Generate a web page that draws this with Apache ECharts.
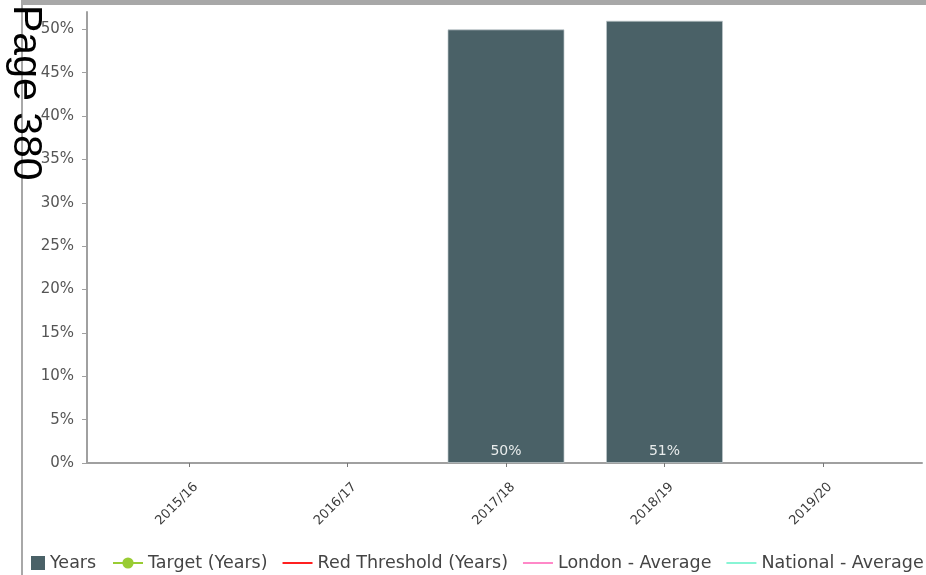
<!DOCTYPE html>
<html>
<head>
<meta charset="utf-8">
<script src="https://cdn.jsdelivr.net/npm/echarts@6/dist/echarts.min.js"></script>
<style>
  html, body { margin: 0; padding: 0; background: #fff; }
  #chart { width: 926px; height: 575px; }
</style>
</head>
<body>
<div id="chart"></div>
<script>
// Financial years shown on the category axis
const categories = ['2015/16', '2016/17', '2017/18', '2018/19', '2019/20'];
// Percentage per year (blank where no figure is reported)
const yearsValues = [null, null, 50, 51, null];
// Comparison series (no figures reported)
const targetValues = [];
const redThresholdValues = [];
const londonValues = [];
const nationalValues = [];
// Y axis tick positions (%)
const yTicks = [0, 5, 10, 15, 20, 25, 30, 35, 40, 45, 50];
const yMax = 52;

const FONT = 'DejaVu Sans';
const AXIS_GREY = '#a0a0a0';
const BAR_COLOR = '#4a6167';
// flat bar used as the legend icon of plain line series
const LINE_ICON = 'path://M0,0H30V2H0Z';

const chart = echarts.init(document.getElementById('chart'), null, { renderer: 'canvas' });

chart.setOption({
  backgroundColor: '#fff',
  animation: false,
  graphic: [
    { type: 'rect', shape: { x: 22, y: 0, width: 904, height: 5 }, style: { fill: '#a8a8a8' }, silent: true },
    { type: 'rect', shape: { x: 21, y: 0, width: 2, height: 575 }, style: { fill: '#a8a8a8' }, silent: true },
    {
      type: 'text', x: 25, y: 5, rotation: -Math.PI / 2, z: 100,
      style: { text: 'Page 380', fill: '#000', font: '41px "Liberation Sans", Arial, sans-serif', align: 'left', verticalAlign: 'middle' }
    }
  ],
  grid: [
    { left: 87, right: 4, top: 12, bottom: 112 },
    { left: 109.75, right: 23.75, top: 12, bottom: 112 }
  ],
  xAxis: [
    {
      gridIndex: 0, type: 'value', min: 0, max: 1,
      axisLine: { show: true, lineStyle: { color: AXIS_GREY, width: 2 } },
      axisTick: { show: false }, axisLabel: { show: false }, splitLine: { show: false }
    },
    {
      gridIndex: 1, type: 'category', data: categories,
      axisLine: { show: false },
      axisTick: { show: true, alignWithLabel: true, length: 4, lineStyle: { color: '#777' } },
      axisLabel: { rotate: 45, fontSize: 13, fontFamily: FONT, color: '#3a3a3a', margin: 29, padding: [0, -10, 0, 0] },
      splitLine: { show: false }
    }
  ],
  yAxis: [
    {
      gridIndex: 0, type: 'value', min: 0, max: yMax,
      axisLine: { show: true, lineStyle: { color: AXIS_GREY, width: 2 } },
      axisTick: { show: true, length: 5, customValues: yTicks, lineStyle: { color: AXIS_GREY } },
      axisLabel: { customValues: yTicks, formatter: '{value}%', fontSize: 15, fontFamily: FONT, color: '#555', margin: 13 },
      splitLine: { show: false }
    },
    { gridIndex: 1, type: 'value', min: 0, max: yMax, show: false }
  ],
  legend: [
    {
      data: [{ name: 'Years', icon: 'rect', itemStyle: { color: BAR_COLOR, borderWidth: 0 } }],
      left: 31, top: 554, padding: 0, itemWidth: 14, itemHeight: 14,
      textStyle: { fontSize: 17.5, fontFamily: FONT, color: '#444' }
    },
    {
      data: [
        'Target (Years)',
        { name: 'Red Threshold (Years)', icon: LINE_ICON },
        { name: 'London - Average', icon: LINE_ICON },
        { name: 'National - Average', icon: LINE_ICON }
      ],
      left: 112, top: 554, padding: 0, itemWidth: 30, itemHeight: 14, itemGap: 15,
      textStyle: { fontSize: 17.5, fontFamily: FONT, color: '#444' }
    }
  ],
  series: [
    {
      name: 'Years', type: 'bar', xAxisIndex: 1, yAxisIndex: 1,
      data: yearsValues, barWidth: 117, clip: false,
      itemStyle: { color: BAR_COLOR, borderColor: 'rgba(190,200,203,0.7)', borderWidth: 1 },
      label: {
        show: true, position: 'insideBottom', distance: 5,
        formatter: p => p.value + '%',
        color: '#e8ecec', fontSize: 14, fontFamily: FONT
      }
    },
    { name: 'Target (Years)', type: 'line', xAxisIndex: 1, yAxisIndex: 1, data: targetValues,
      color: '#99cc33', symbol: 'circle', symbolSize: 10, lineStyle: { width: 2 } },
    { name: 'Red Threshold (Years)', type: 'line', xAxisIndex: 1, yAxisIndex: 1, data: redThresholdValues,
      color: '#ff2020', symbol: 'none', lineStyle: { width: 2 } },
    { name: 'London - Average', type: 'line', xAxisIndex: 1, yAxisIndex: 1, data: londonValues,
      color: '#ff88c8', symbol: 'none', lineStyle: { width: 2 } },
    { name: 'National - Average', type: 'line', xAxisIndex: 1, yAxisIndex: 1, data: nationalValues,
      color: '#88f5d5', symbol: 'none', lineStyle: { width: 2 } }
  ]
});
</script>
</body>
</html>
